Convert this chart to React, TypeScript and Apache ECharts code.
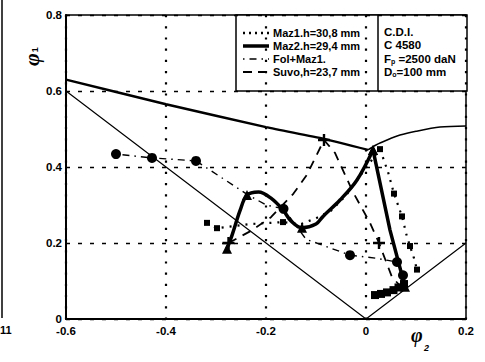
import React, { useEffect, useRef } from "react";
import * as echarts from "echarts";

// axis ranges / ticks
const xRange = [-0.6, 0.2];
const yRange = [0, 0.8];

// limit lines
const limitLower = [[-0.6, 0.6], [0, 0], [0.2, 0.2]];
const limitUpperLeft = [[-0.6, 0.63], [-0.4, 0.565], [-0.2, 0.505], [-0.084, 0.474], [0.004, 0.445]];
const limitUpperRight = [[0.004, 0.445], [0.02, 0.458], [0.042, 0.471], [0.068, 0.484], [0.1, 0.494], [0.148, 0.505], [0.2, 0.508]];

// Maz1.h=30,8 mm (dotted, squares)
const maz1 = [
  [-0.318, 0.253], [-0.298, 0.239], [-0.23, 0.25], [-0.166, 0.255], [-0.13, 0.25], [-0.1, 0.265],
  [-0.07, 0.285], [-0.04, 0.325], [-0.01, 0.38], [0.028, 0.447], [0.044, 0.387], [0.056, 0.33],
  [0.064, 0.3], [0.072, 0.27], [0.082, 0.216], [0.088, 0.192], [0.096, 0.16], [0.102, 0.13],
];
const maz1Marked = [0, 1, 3, 9, 11, 13, 15, 17];
// Maz2.h=29,4 mm (thick solid)
const maz2 = [
  [-0.278, 0.185], [-0.268, 0.22], [-0.252, 0.285], [-0.238, 0.326], [-0.215, 0.334], [-0.19, 0.318],
  [-0.166, 0.287], [-0.15, 0.258], [-0.128, 0.24], [-0.1, 0.25], [-0.086, 0.27], [-0.052, 0.313],
  [-0.018, 0.366], [0.014, 0.445], [0.048, 0.234], [0.078, 0.085],
];
const maz2Marked = [0, 3, 8, 13, 15];
// Fol+Maz1. (dash-dot, big circles)
const fol = [
  [-0.5, 0.434], [-0.428, 0.424], [-0.34, 0.416], [-0.24, 0.33], [-0.2, 0.3], [-0.165, 0.29],
  [-0.12, 0.21], [-0.032, 0.168], [0.02, 0.16], [0.062, 0.15], [0.074, 0.115],
];
const folMarked = [0, 1, 2, 5, 7, 9, 10];
// Suvo,h=23,7 mm (dashed)
const suvo = [
  [-0.275, 0.2], [-0.23, 0.232], [-0.19, 0.268], [-0.145, 0.33], [-0.118, 0.38], [-0.084, 0.471],
  [-0.062, 0.437], [-0.026, 0.334], [0.008, 0.253], [0.026, 0.2], [0.052, 0.11], [0.07, 0.085],
];
const suvoMarked = [0, 5, 9];
// end cluster near the lower limit
const cluster = [[0.018, 0.063], [0.03, 0.066], [0.042, 0.07], [0.055, 0.076], [0.065, 0.083], [0.076, 0.092]];

const legendLeft = ["Maz1.h=30,8 mm", "Maz2.h=29,4 mm", "Fol+Maz1.", "Suvo,h=23,7 mm"];

const FONT = '"Liberation Sans", Arial, sans-serif';
const PLUS = "path://M4,0H6V4H10V6H6V10H4V6H0V4H4Z";

export default function App() {
  const ref = useRef<HTMLDivElement>(null);
  useEffect(() => {
    if (!ref.current) return;
    const chart = echarts.init(ref.current, null, { renderer: "svg" });
    const sizeBy = (marked: number[], size: number, offset = 0) => (_v: any, p: any) =>
      marked.includes(p.dataIndex + offset) ? size : 0;
    const rowY = [33, 46, 59, 72];
    const dashes: any[] = [[2, 4], null, [1.5, 5, 7, 5], [9, 6]];
    const widths = [2.5, 3.5, 1.5, 1.8];
    const legendItems: any[] = [];
    rowY.forEach((y, i) => {
      legendItems.push({
        type: "line",
        shape: { x1: 243, y1: y, x2: 269, y2: y },
        style: { stroke: "#000", lineWidth: widths[i], lineDash: dashes[i] || undefined },
      });
      legendItems.push({
        type: "text",
        x: 273,
        y: y,
        style: { text: legendLeft[i], font: `bold 11px ${FONT}`, fill: "#000", textVerticalAlign: "middle" },
      });
    });
    const richSub = {
      m: { fontFamily: FONT, fontWeight: "bold", fontSize: 11.5, fill: "#000" },
      s: { fontFamily: FONT, fontWeight: "bold", fontSize: 7, padding: [6, 0, 0, 0] },
    };
    const rightTexts = ["{m|C.D.I.}", "{m|C 4580}", "{m|F}{s|p}{m| =2500 daN}", "{m|D}{s|o}{m|=100 mm}"];
    rightTexts.forEach((t, i) => {
      legendItems.push({
        type: "text",
        x: 384,
        y: rowY[i] - 7,
        style: { text: t, rich: richSub, fill: "#000", font: `bold 11.5px ${FONT}` },
      });
    });

    chart.setOption({
      animation: false,
      backgroundColor: "#fff",
      grid: { left: 66, right: 19, top: 15, bottom: 43, show: true, borderColor: "#000", borderWidth: 1.5 },
      xAxis: {
        type: "value",
        min: xRange[0],
        max: xRange[1],
        interval: 0.2,
        axisLine: { show: true, onZero: false, lineStyle: { color: "#000", width: 2 } },
        axisTick: { show: false },
        axisLabel: { color: "#000", fontFamily: FONT, fontWeight: "bold", fontSize: 11.5, margin: 6 },
        splitLine: { show: true, lineStyle: { color: "#000", width: 2.2, type: [2.2, 9], opacity: 1 } },
      },
      yAxis: {
        type: "value",
        min: yRange[0],
        max: yRange[1],
        interval: 0.2,
        axisLine: { show: true, onZero: false, lineStyle: { color: "#000", width: 2 } },
        axisTick: { show: false },
        axisLabel: { color: "#000", fontFamily: FONT, fontWeight: "bold", fontSize: 11.5, margin: 4 },
        splitLine: { show: true, lineStyle: { color: "#000", width: 1.3, type: [4, 8] } },
      },
      series: [
        { type: "line", data: limitLower, symbol: "none", lineStyle: { color: "#000", width: 1.2 } },
        { type: "line", data: limitUpperLeft, symbol: "none", smooth: 0.2, lineStyle: { color: "#000", width: 2.5 } },
        { type: "line", data: limitUpperRight, symbol: "none", smooth: 0.3, lineStyle: { color: "#000", width: 1.5 } },
        {
          type: "line", data: maz1, symbol: "rect", symbolSize: sizeBy(maz1Marked, 6),
          itemStyle: { color: "#000" }, lineStyle: { color: "#000", width: 2.2, type: [2, 6] },
        },
        {
          type: "line", data: maz2.slice(0, 14), smooth: 0.35, symbol: "triangle",
          symbolSize: sizeBy(maz2Marked, 10), itemStyle: { color: "#000" },
          lineStyle: { color: "#000", width: 3.5 },
        },
        {
          type: "line", data: maz2.slice(13), symbol: "triangle",
          symbolSize: sizeBy(maz2Marked, 10, 13), itemStyle: { color: "#000" },
          lineStyle: { color: "#000", width: 3.5 },
        },
        {
          type: "line", data: fol, symbol: "circle", symbolSize: sizeBy(folMarked, 10),
          itemStyle: { color: "#000" }, lineStyle: { color: "#000", width: 1.4, type: [1.5, 5, 7, 5] },
        },
        {
          type: "line", data: suvo, symbol: PLUS, symbolSize: sizeBy(suvoMarked, 12),
          itemStyle: { color: "#000" }, lineStyle: { color: "#000", width: 1.8, type: [9, 7] },
        },
        {
          type: "line", data: cluster, symbol: "rect", symbolSize: 8,
          itemStyle: { color: "#000" }, lineStyle: { color: "#000", width: 5 },
        },
      ],
      graphic: [
        { type: "line", shape: { x1: 2, y1: 0, x2: 2, y2: 318 }, style: { stroke: "#000", lineWidth: 1.5 } },
        { type: "text", x: 0, y: 324, style: { text: "11", font: `bold 11px ${FONT}`, fill: "#000" } },
        {
          type: "text", x: 20, y: 66, rotation: Math.PI / 2,
          style: {
            text: "{a|φ}{b|1}",
            rich: {
              a: { fontFamily: "Liberation Serif", fontStyle: "italic", fontWeight: "bold", fontSize: 22 },
              b: { fontFamily: FONT, fontWeight: "bold", fontSize: 9, padding: [8, 0, 0, 1] },
            },
            fill: "#000",
          },
        },
        {
          type: "text", x: 411, y: 325,
          style: { text: "φ", font: 'italic bold 20px "Liberation Serif"', fill: "#000" },
        },
        {
          type: "text", x: 424, y: 343,
          style: { text: "2", font: `italic bold 9px ${FONT}`, fill: "#000" },
        },
        {
          type: "group",
          z: 100,
          children: [
            {
              type: "rect", shape: { x: 236, y: 15, width: 231, height: 76 },
              style: { fill: "#fff", stroke: "#000", lineWidth: 1.5 },
            },
            { type: "line", shape: { x1: 378, y1: 15, x2: 378, y2: 91 }, style: { stroke: "#000", lineWidth: 1.5 } },
            ...legendItems,
          ],
        },
      ],
    });
    return () => chart.dispose();
  }, []);
  return <div ref={ref} style={{ width: 485, height: 362, position: "absolute", left: 0, top: 0 }} />;
}
